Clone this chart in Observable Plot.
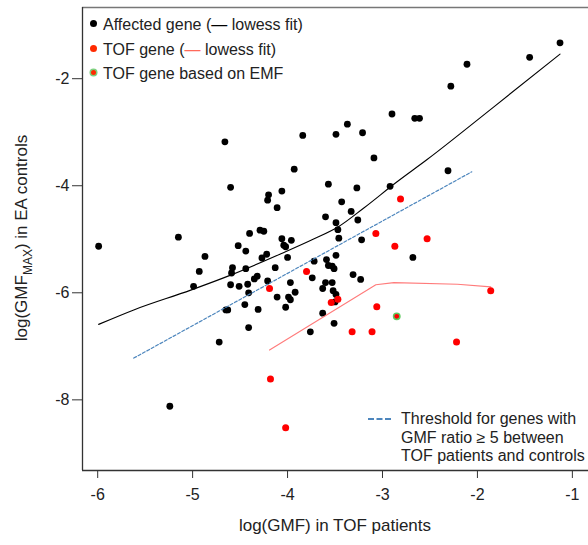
<!DOCTYPE html>
<html><head><meta charset="utf-8">
<script src="https://cdn.jsdelivr.net/npm/d3@7"></script>
<script src="https://cdn.jsdelivr.net/npm/@observablehq/plot@0.6"></script>
<style>
body{margin:0;background:#fff;font-family:"Liberation Sans",Arial,sans-serif;}
#wrap{position:relative;width:588px;height:545px;overflow:hidden;}
.leg{position:absolute;font-size:16px;color:#222;white-space:nowrap;line-height:18px;}
.dot{display:inline-block;width:7px;height:7px;border-radius:50%;vertical-align:middle;margin-right:6px;position:relative;top:-2px;}
</style></head>
<body><div id="wrap"></div>
<script>
const affectedX=[-4.66,-3.84,-3.49,-3.37,-3.21,-3.09,-2.90,-2.66,-2.61,-2.28,-2.11,-1.45,-1.13,-5.99,-5.15,-4.60,-3.93,-4.20,-4.21,-4.06,-4.11,-3.57,-3.60,-3.49,-3.43,-3.47,-3.46,-4.29,-4.25,-4.40,-4.06,-3.96,-4.04,-4.02,-4.52,-4.44,-4.87,-4.27,-4.22,-4.00,-3.59,-3.49,-4.93,-4.58,-4.59,-4.44,-4.13,-3.57,-3.53,-3.51,-3.72,-4.32,-4.35,-4.21,-3.74,-4.99,-4.60,-4.51,-4.42,-4.41,-3.97,-3.92,-4.11,-3.99,-3.97,-3.60,-3.63,-3.52,-3.49,-3.53,-4.45,-4.02,-4.31,-3.27,-2.92,-2.31,-3.33,-3.26,-3.22,-2.68,-3.31,-3.23,-3.50,-4.65,-4.63,-4.41,-4.72,-5.24,-3.76,-3.63,-3.51];
const affectedY=[-3.18,-3.06,-3.04,-2.85,-3.01,-3.48,-2.66,-2.74,-2.74,-2.14,-1.73,-1.60,-1.33,-5.13,-4.96,-4.03,-3.69,-4.17,-4.27,-4.10,-4.41,-3.97,-4.58,-4.69,-4.30,-4.82,-4.98,-4.83,-4.85,-4.89,-4.99,-5.02,-5.11,-5.14,-5.12,-5.22,-5.32,-5.35,-5.28,-5.34,-5.38,-5.30,-5.60,-5.53,-5.63,-5.55,-5.53,-5.49,-5.50,-5.55,-5.41,-5.69,-5.74,-5.78,-5.72,-5.88,-5.85,-5.88,-5.84,-6.00,-5.81,-5.99,-6.08,-6.08,-6.13,-5.81,-5.92,-5.96,-6.03,-5.81,-6.22,-6.27,-6.31,-4.04,-4.01,-3.72,-4.48,-4.64,-5.01,-5.34,-5.66,-5.75,-6.17,-6.32,-6.32,-6.65,-6.92,-8.12,-6.73,-6.38,-6.57];
const tofX=[-3.80,-4.19,-3.54,-3.47,-2.81,-3.07,-2.87,-2.53,-1.86,-3.06,-4.18,-4.02,-3.32,-3.11,-2.22];
const tofY=[-5.60,-5.92,-6.18,-6.12,-4.25,-4.89,-5.13,-4.99,-5.96,-6.26,-7.61,-8.52,-6.73,-6.73,-6.92];
const emfX=[-2.85];
const emfY=[-6.44];
const lowessAffX=[-5.99,-5.62,-5.02,-4.60,-4.07,-3.72,-3.46,-3.20,-2.85,-2.53,-1.83,-1.13];
const lowessAffY=[-6.59,-6.32,-5.95,-5.67,-5.27,-4.99,-4.76,-4.42,-3.93,-3.51,-2.53,-1.54];
const lowessTofX=[-4.19,-3.07,-2.88,-2.21,-1.86];
const lowessTofY=[-7.07,-5.85,-5.81,-5.84,-5.89];
const thresholdX=[-5.62,-2.06];
const thresholdY=[-7.22,-3.74];
const xTicks=[-6,-5,-4,-3,-2,-1];
const yTicks=[-8,-6,-4,-2];
const xDomain=[-6.16,-0.83];
const yDomain=[-9.32,-0.67];

const zip=(xs,ys)=>xs.map((x,i)=>({x,y:ys[i]}));
const aff=zip(affectedX,affectedY), tof=zip(tofX,tofY), emf=zip(emfX,emfY);
const la=zip(lowessAffX,lowessAffY), lt=zip(lowessTofX,lowessTofY), th=zip(thresholdX,thresholdY);
const fmt=d=>String(d);

const chart=Plot.plot({
  width:588,height:545,
  marginLeft:82,marginRight:0,marginTop:7,marginBottom:75,
  style:{fontFamily:"'Liberation Sans',Arial,sans-serif",fontSize:"16px",color:"#222",background:"#fff"},
  x:{domain:xDomain},
  y:{domain:yDomain},
  marks:[
    Plot.axisX({ticks:xTicks,tickFormat:fmt,tickSize:8,tickPadding:10,label:null,stroke:"#333",fontSize:16}),
    Plot.axisY({ticks:yTicks,tickFormat:fmt,tickSize:10,tickPadding:3,label:null,stroke:"#333",fontSize:16}),
    Plot.ruleY([yDomain[0]],{stroke:"#333",strokeWidth:1.3}),
    Plot.ruleY([yDomain[1]],{stroke:"#777",strokeWidth:1.3}),
    Plot.ruleX([xDomain[0]],{stroke:"#333",strokeWidth:1.3}),
    Plot.dot(aff,{x:"x",y:"y",r:3.4,fill:"#000",stroke:"none"}),
    Plot.line(th,{x:"x",y:"y",stroke:"#4d86bd",strokeWidth:1.2,strokeDasharray:"3,2"}),
    Plot.line(la,{x:"x",y:"y",stroke:"#000",strokeWidth:1.1,curve:"monotone-x"}),
    Plot.line(lt,{x:"x",y:"y",stroke:"#ff7b7b",strokeWidth:1.1}),
    Plot.dot(tof,{x:"x",y:"y",r:3.5,fill:"#ff0000",stroke:"none"}),
    Plot.dot(emf,{x:"x",y:"y",r:3.2,fill:"#ff0000",stroke:"#5fc95f",strokeWidth:1.5})
  ]
});
const wrap=document.getElementById("wrap");
wrap.appendChild(chart);
const svg=d3.select(chart);
const yt=svg.append("text").attr("transform","translate(27,238) rotate(-90)")
  .attr("text-anchor","middle").attr("font-size",17).attr("fill","#222");
yt.append("tspan").text("log(GMF");
yt.append("tspan").attr("font-size",12).attr("dy",5).text("MAX");
yt.append("tspan").attr("dy",-5).text(") in EA controls");
svg.append("text").attr("x",335).attr("y",531).attr("text-anchor","middle")
  .attr("font-size",17).attr("fill","#222").text("log(GMF) in TOF patients");

function leg(html,left,top){const d=document.createElement("div");d.className="leg";d.style.left=left+"px";d.style.top=top+"px";d.innerHTML=html;wrap.appendChild(d);}
leg('<span class="dot" style="background:#000"></span>Affected gene (<span style="color:#000">—</span> lowess fit)',90,16);
leg('<span class="dot" style="background:#ff2a00"></span>TOF gene (<span style="color:#ff6a5a">—</span> lowess fit)',90,41);
leg('<span class="dot" style="background:#ff2a00;box-shadow:0 0 0 1.5px #7fd07f;width:5px;height:5px;margin-left:1px;margin-right:7px"></span>TOF gene based on EMF',90,65);
leg('<span style="display:inline-block;width:23px;border-top:2px dashed #4d86bd;vertical-align:middle;margin-right:10px;position:relative;top:-1px"></span>Threshold for genes with',368,410);
leg('GMF ratio ≥ 5 between',401,429);
leg('TOF patients and controls',401,447);
</script></body></html>
